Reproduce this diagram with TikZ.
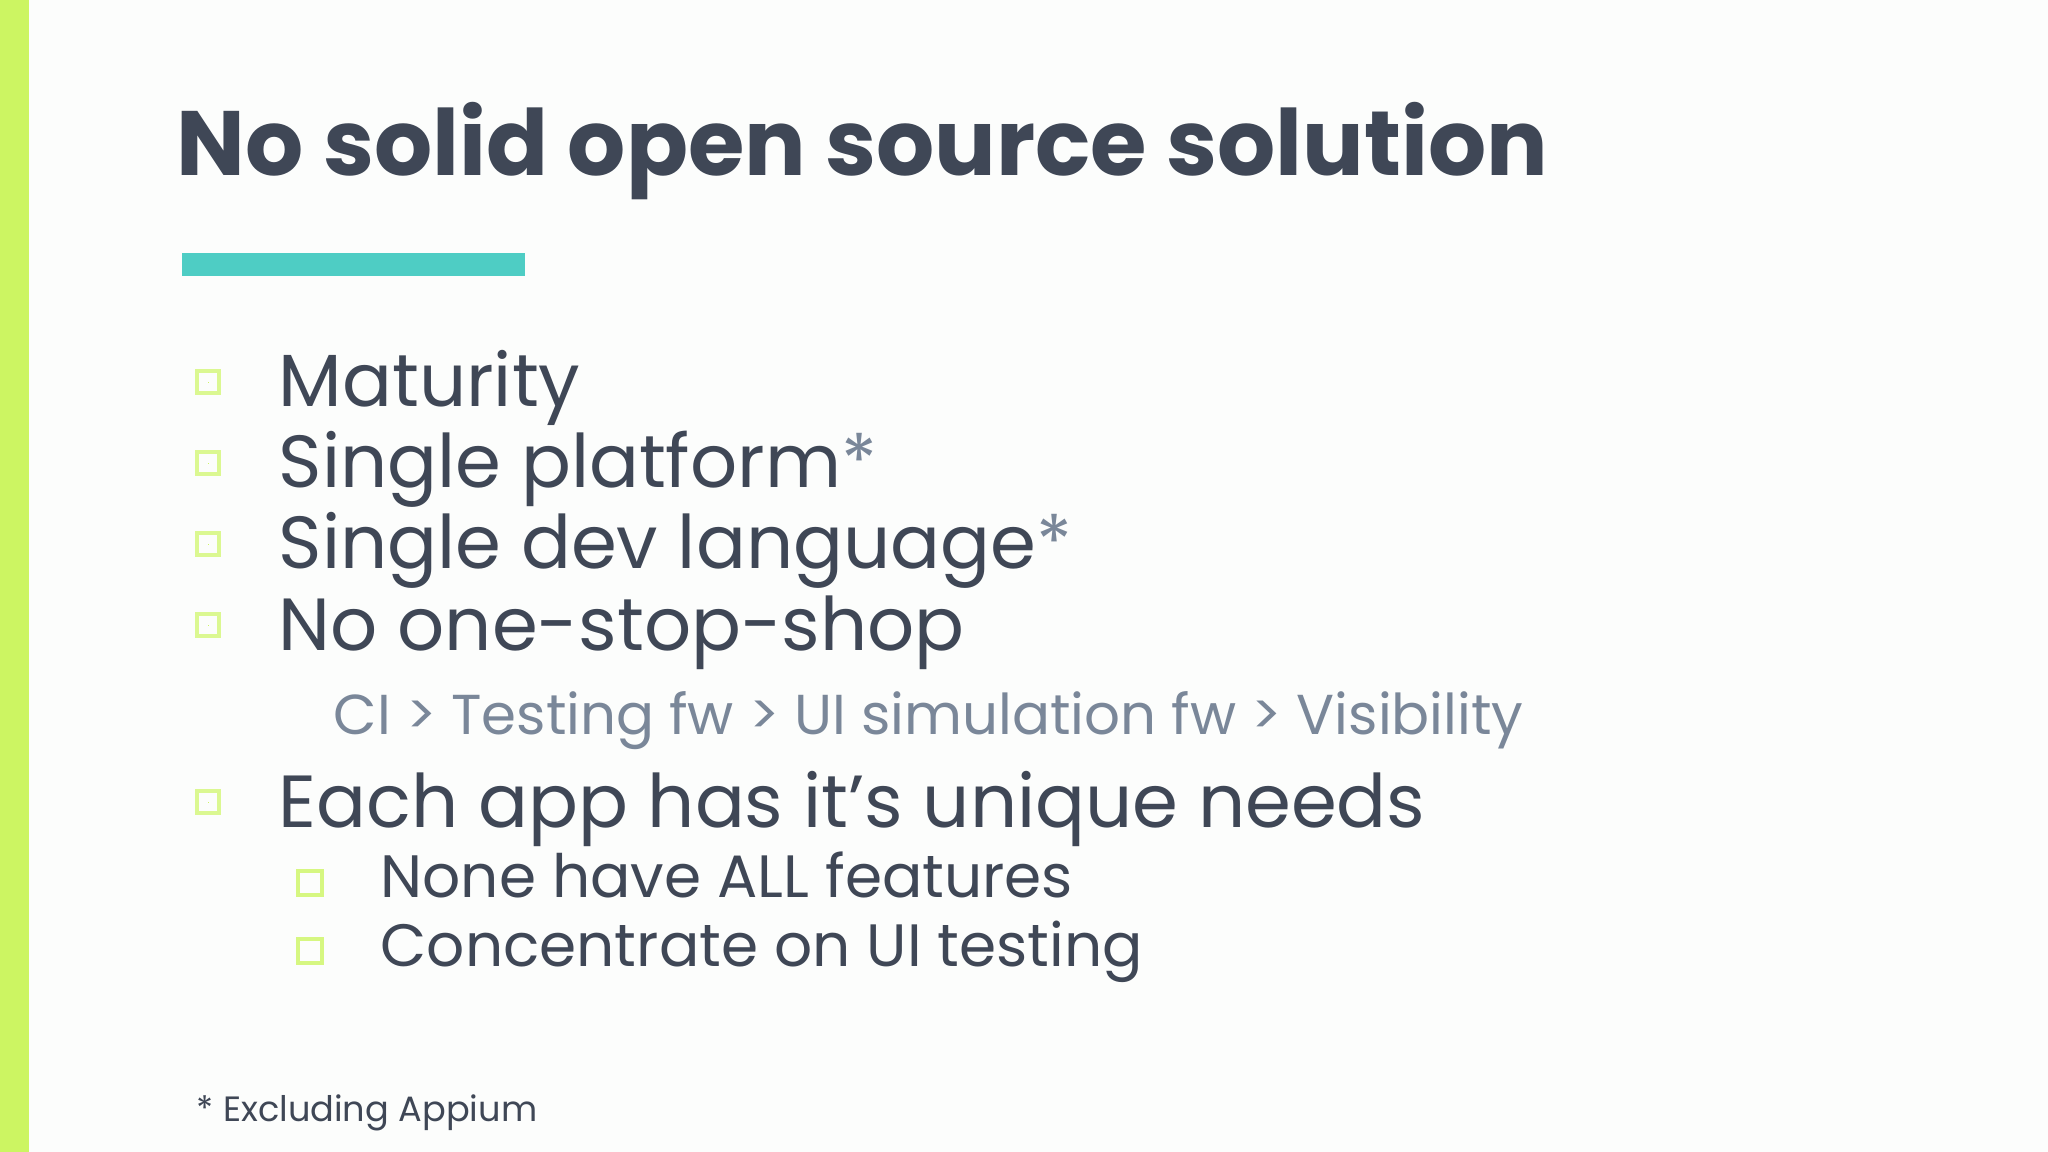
\documentclass[tikz,border=0pt]{standalone}
\usepackage{fontspec}
\setmainfont{Poppins}
\definecolor{txt}{HTML}{3F4756}
\definecolor{sub}{HTML}{7A8799}
\definecolor{lime}{HTML}{CCF562}
\definecolor{teal}{HTML}{4ECDC4}
\definecolor{bg}{HTML}{FCFDFC}
\begin{document}
\begin{tikzpicture}[x=0.01cm,y=-0.01cm,
  item/.style={anchor=base west,text=txt,font=\fontsize{21}{25}\selectfont,inner sep=0},
  subitem/.style={anchor=base west,text=txt,font=\fontsize{17}{20}\selectfont,inner sep=0},
  fullbox/.style={draw=lime!70,line width=1.2pt,minimum size=0.22cm,inner sep=0,
     path picture={\fill[lime] ([shift={(-0.055,-0.055)}]path picture bounding box.center) rectangle ([shift={(0.055,0.055)}]path picture bounding box.center);}},
  emptybox/.style={draw=lime!80,line width=1.2pt,minimum size=0.24cm,inner sep=0}]
\fill[bg] (0,0) rectangle (2048,1152);
\useasboundingbox (0,0) rectangle (2048,1152);
\fill[lime] (0,0) rectangle (29,1152);
\node[anchor=base west,inner sep=0,text=txt,font=\fontsize{26}{30}\selectfont\bfseries] (title) at (176,176) {No solid open source solution};
\fill[teal] (182,253) rectangle (525,276);
\foreach \n/\y/\t in {a/407/Maturity, b/488/{Single platform\textcolor{sub}{*}}, c/569/{Single dev language\textcolor{sub}{*}}, d/650/No one-stop-shop, e/827/Each app has it’s unique needs}{
  \node[fullbox] (b\n) at (208,\y-25) {};
  \node[item] (t\n) at (278,\y) {\t};
}
\node[anchor=base west,inner sep=0,text=sub,font=\fontsize{16}{19}\selectfont] (ci) at (333,734) {CI > Testing fw > UI simulation fw > Visibility};
\node[emptybox] (s1) at (310,883) {};
\node[subitem] (u1) at (380,897) {None have ALL features};
\node[emptybox] (s2) at (310,951) {};
\node[subitem] (u2) at (380,966) {Concentrate on UI testing};
\node[anchor=base west,inner sep=0,text=txt,font=\fontsize{10}{12}\selectfont] (fn) at (196,1121) {* Excluding Appium};
\end{tikzpicture}
\end{document}
